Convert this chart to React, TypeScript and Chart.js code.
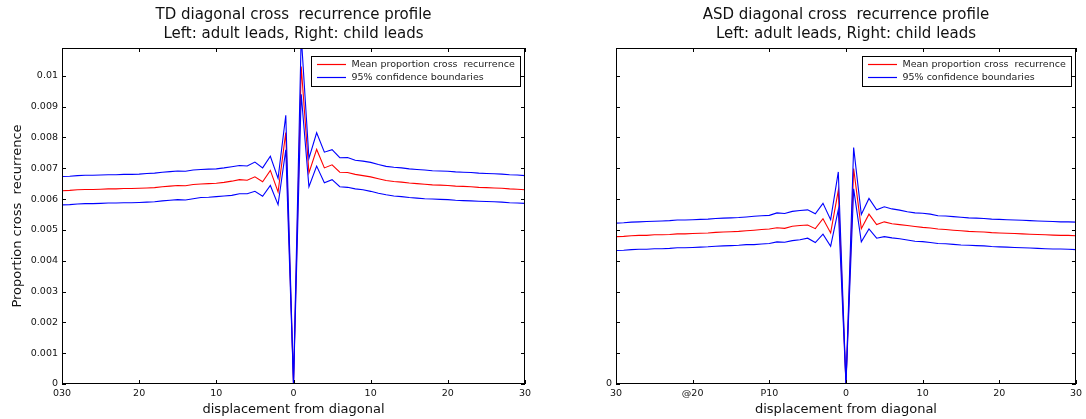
import React, { useEffect, useRef } from "react";
import { Chart, registerables } from "chart.js";

Chart.register(...registerables);

// displacement from diagonal (negative: adult leads, positive: child leads)
const displacement = [
  -30, -29, -28, -27, -26, -25, -24, -23, -22, -21, -20, -19, -18, -17, -16, -15, -14, -13, -12, -11,
  -10, -9, -8, -7, -6, -5, -4, -3, -2, -1, 0, 1, 2, 3, 4, 5, 6, 7, 8, 9,
  10, 11, 12, 13, 14, 15, 16, 17, 18, 19, 20, 21, 22, 23, 24, 25, 26, 27, 28, 29, 30,
];

// values in thousandths (x 0.001)
const tdMean = [
  6.27, 6.28, 6.30, 6.31, 6.31, 6.32, 6.33, 6.33, 6.34, 6.34, 6.35, 6.36, 6.37, 6.40, 6.42, 6.44, 6.43, 6.47, 6.49, 6.50,
  6.51, 6.54, 6.58, 6.63, 6.61, 6.72, 6.56, 6.93, 6.23, 8.16, 0, 10.3, 6.85, 7.61, 7.01, 7.11, 6.87, 6.86, 6.80, 6.76,
  6.72, 6.66, 6.60, 6.57, 6.55, 6.52, 6.50, 6.48, 6.46, 6.45, 6.44, 6.42, 6.41, 6.40, 6.38, 6.37, 6.36, 6.35, 6.33, 6.32, 6.30,
];
const tdUpper = [
  6.73, 6.74, 6.76, 6.77, 6.77, 6.78, 6.79, 6.79, 6.80, 6.80, 6.81, 6.83, 6.84, 6.87, 6.89, 6.91, 6.90, 6.94, 6.96, 6.97,
  6.98, 7.01, 7.05, 7.09, 7.07, 7.20, 7.01, 7.39, 6.67, 8.72, 0, 11.3, 7.32, 8.15, 7.52, 7.60, 7.34, 7.35, 7.26, 7.23,
  7.19, 7.12, 7.06, 7.03, 7.01, 6.98, 6.96, 6.94, 6.92, 6.91, 6.90, 6.88, 6.87, 6.86, 6.84, 6.83, 6.82, 6.81, 6.79, 6.78, 6.76,
];
const tdLower = [
  5.81, 5.82, 5.84, 5.85, 5.85, 5.86, 5.87, 5.87, 5.88, 5.88, 5.89, 5.90, 5.91, 5.94, 5.96, 5.98, 5.97, 6.01, 6.05, 6.06,
  6.08, 6.10, 6.12, 6.17, 6.17, 6.25, 6.09, 6.44, 5.82, 7.6, 0, 9.4, 6.40, 7.07, 6.53, 6.63, 6.40, 6.38, 6.33, 6.30,
  6.25, 6.19, 6.14, 6.10, 6.08, 6.05, 6.03, 6.01, 6.00, 5.99, 5.98, 5.96, 5.95, 5.94, 5.93, 5.92, 5.91, 5.90, 5.88, 5.87, 5.86,
];

const asdMean = [
  4.78, 4.79, 4.81, 4.82, 4.82, 4.84, 4.84, 4.85, 4.87, 4.87, 4.88, 4.89, 4.90, 4.92, 4.93, 4.94, 4.95, 4.97, 4.99, 5.01,
  5.03, 5.07, 5.05, 5.12, 5.14, 5.16, 5.04, 5.36, 4.90, 6.28, 0, 6.99, 5.04, 5.51, 5.17, 5.26, 5.20, 5.17, 5.14, 5.11,
  5.08, 5.06, 5.03, 5.01, 4.99, 4.97, 4.95, 4.94, 4.93, 4.91, 4.90, 4.89, 4.88, 4.87, 4.86, 4.85, 4.84, 4.83, 4.82, 4.82, 4.81,
];
const asdUpper = [
  5.22, 5.23, 5.25, 5.26, 5.27, 5.28, 5.29, 5.30, 5.32, 5.32, 5.33, 5.34, 5.35, 5.37, 5.38, 5.39, 5.40, 5.42, 5.44, 5.46,
  5.47, 5.55, 5.53, 5.60, 5.63, 5.65, 5.52, 5.86, 5.33, 6.88, 0, 7.67, 5.50, 6.02, 5.65, 5.75, 5.68, 5.64, 5.59, 5.55,
  5.54, 5.51, 5.46, 5.45, 5.43, 5.41, 5.39, 5.38, 5.37, 5.35, 5.34, 5.33, 5.32, 5.31, 5.30, 5.29, 5.28, 5.27, 5.26, 5.26, 5.25,
];
const asdLower = [
  4.33, 4.34, 4.36, 4.37, 4.37, 4.39, 4.39, 4.40, 4.42, 4.42, 4.43, 4.44, 4.45, 4.47, 4.48, 4.49, 4.50, 4.52, 4.52, 4.54,
  4.56, 4.61, 4.60, 4.65, 4.68, 4.73, 4.59, 4.86, 4.47, 5.66, 0, 6.33, 4.61, 5.03, 4.73, 4.78, 4.74, 4.71, 4.67, 4.63,
  4.62, 4.59, 4.56, 4.55, 4.53, 4.51, 4.50, 4.49, 4.48, 4.46, 4.45, 4.44, 4.43, 4.42, 4.41, 4.40, 4.39, 4.38, 4.38, 4.37, 4.36,
];

const xTickValues = [-30, -20, -10, 0, 10, 20, 30];
const tdXTickLabels = ["030", "20", "10", "0", "10", "20", "30"];
const asdXTickLabels = ["30", "@20", "P10", "0", "10", "20", "30"];

const tdTitle = ["TD diagonal cross  recurrence profile", "Left: adult leads, Right: child leads"];
const asdTitle = ["ASD diagonal cross  recurrence profile", "Left: adult leads, Right: child leads"];
const xAxisTitle = "displacement from diagonal";
const yAxisTitle = "Proportion cross  recurrence";
const meanLabel = "Mean proportion cross  recurrence";
const ciLabel = "95% confidence boundaries";

const UNIT = 0.001;
const Y_MAX = 0.0109;
const FONT = "'DejaVu Sans', sans-serif";
const RED = "#ff0000";
const BLUE = "#0000ff";

const framePlugin = {
  id: "frameTicks",
  afterDraw(chart: any) {
    const { ctx, chartArea: a, scales } = chart;
    ctx.save();
    ctx.strokeStyle = "#000";
    ctx.lineWidth = 1;
    ctx.beginPath();
    for (const t of scales.y.ticks) {
      const y = Math.round(scales.y.getPixelForValue(t.value)) + 0.5;
      ctx.moveTo(a.left, y);
      ctx.lineTo(a.left + 4, y);
      ctx.moveTo(a.right - 4, y);
      ctx.lineTo(a.right, y);
    }
    for (const t of scales.x.ticks) {
      const x = Math.round(scales.x.getPixelForValue(t.value)) + 0.5;
      ctx.moveTo(x, a.top);
      ctx.lineTo(x, a.top + 4);
      ctx.moveTo(x, a.bottom - 4);
      ctx.lineTo(x, a.bottom);
    }
    ctx.stroke();
    ctx.strokeRect(Math.round(a.left) + 0.5, Math.round(a.top) + 0.5, Math.round(a.right - a.left) - 1, Math.round(a.bottom - a.top) - 1);

    // legend
    const items = [
      { label: meanLabel, color: RED },
      { label: ciLabel, color: BLUE },
    ];
    ctx.font = `9.5px ${FONT}`;
    const textW = Math.max(...items.map((i) => ctx.measureText(i.label).width));
    const w = Math.round(40 + textW + 6);
    const h = 30;
    const right = Math.round(a.right) - 5;
    const left = right - w;
    const top = Math.round(a.top) + 8;
    ctx.fillStyle = "#fff";
    ctx.fillRect(left, top, w, h);
    ctx.strokeStyle = "#000";
    ctx.strokeRect(left + 0.5, top + 0.5, w, h);
    items.forEach((it, i) => {
      const cy = top + 8.5 + i * 13;
      ctx.strokeStyle = it.color;
      ctx.lineWidth = 1.2;
      ctx.beginPath();
      ctx.moveTo(left + 6, cy);
      ctx.lineTo(left + 35, cy);
      ctx.stroke();
      ctx.fillStyle = "#222";
      ctx.textBaseline = "middle";
      ctx.textAlign = "left";
      ctx.fillText(it.label, left + 40.5, cy);
    });
    ctx.restore();
  },
};

function makeConfig(
  title: string[],
  mean: number[],
  upper: number[],
  lower: number[],
  xLabels: string[],
  showYLabels: boolean,
  yAxisWidth: number,
  padRight: number
): any {
  const toPts = (arr: number[]) => displacement.map((x, i) => ({ x, y: arr[i] * UNIT }));
  const ds = (label: string, arr: number[], color: string) => ({
    label,
    data: toPts(arr),
    borderColor: color,
    backgroundColor: color,
    borderWidth: 1.1,
    pointRadius: 0,
    tension: 0,
    fill: false,
  });
  return {
    type: "line",
    data: {
      datasets: [ds(ciLabel, upper, BLUE), ds(ciLabel, lower, BLUE), ds(meanLabel, mean, RED)],
    },
    options: {
      animation: false,
      responsive: false,
      events: [],
      layout: { padding: { left: 0, right: padRight, top: 0, bottom: 0 } },
      plugins: {
        legend: { display: false },
        tooltip: { enabled: false },
        title: {
          display: true,
          text: title,
          fullSize: false,
          color: "#111",
          font: { family: FONT, size: 15, weight: "normal", lineHeight: 1.25 },
          padding: { top: 6, bottom: 4.5 },
        },
      },
      scales: {
        x: {
          type: "linear",
          min: -30,
          max: 30,
          grid: { display: false, drawTicks: false },
          border: { display: false },
          afterFit: (s: any) => {
            s.height = 35;
          },
          ticks: {
            stepSize: 10,
            autoSkip: false,
            maxRotation: 0,
            padding: 4,
            color: "#111",
            font: { family: FONT, size: 9.5 },
            callback: (v: number) => {
              const i = xTickValues.indexOf(Math.round(v));
              return i >= 0 ? xLabels[i] : "";
            },
          },
          title: {
            display: true,
            text: xAxisTitle,
            color: "#111",
            font: { family: FONT, size: 13, lineHeight: 1.2 },
            padding: { top: 0, bottom: 1.5 },
          },
        },
        y: {
          type: "linear",
          min: 0,
          max: Y_MAX,
          grid: { display: false, drawTicks: false },
          border: { display: false },
          afterFit: (s: any) => {
            s.width = yAxisWidth;
          },
          ticks: {
            stepSize: 0.001,
            includeBounds: false,
            padding: 4,
            color: "#111",
            font: { family: FONT, size: 9.5 },
            callback: (v: number) => {
              const s = String(parseFloat(v.toFixed(4)));
              if (showYLabels) return s;
              return Math.abs(v) < 1e-9 ? "0" : "";
            },
          },
          title: {
            display: showYLabels,
            text: yAxisTitle,
            color: "#111",
            font: { family: FONT, size: 13, lineHeight: 1.2 },
            padding: { top: 10, bottom: 0 },
          },
        },
      },
    },
    plugins: [framePlugin],
  };
}

export default function App() {
  const leftRef = useRef<HTMLCanvasElement>(null);
  const rightRef = useRef<HTMLCanvasElement>(null);

  useEffect(() => {
    const c1 = new Chart(
      leftRef.current as HTMLCanvasElement,
      makeConfig(tdTitle, tdMean, tdUpper, tdLower, tdXTickLabels, true, 62, 18)
    );
    const c2 = new Chart(
      rightRef.current as HTMLCanvasElement,
      makeConfig(asdTitle, asdMean, asdUpper, asdLower, asdXTickLabels, false, 73, 7)
    );
    return () => {
      c1.destroy();
      c2.destroy();
    };
  }, []);

  return (
    <div style={{ position: "absolute", left: 0, top: 0, width: 1086, height: 419, background: "#fff", display: "flex" }}>
      <canvas ref={leftRef} width={543} height={419} style={{ width: 543, height: 419, display: "block" }} />
      <canvas ref={rightRef} width={543} height={419} style={{ width: 543, height: 419, display: "block" }} />
    </div>
  );
}
